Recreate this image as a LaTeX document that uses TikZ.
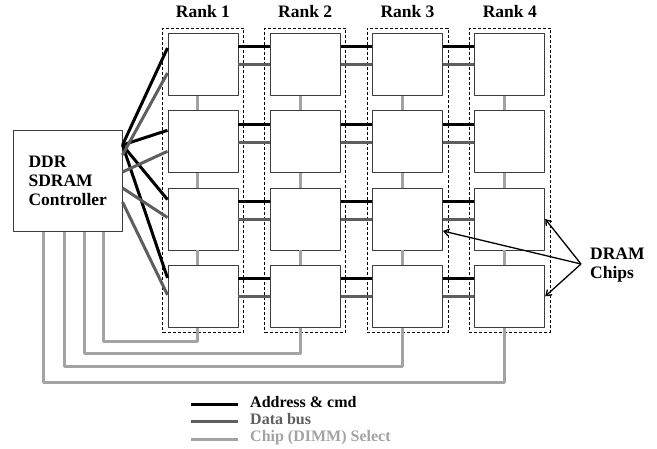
\documentclass[tikz,border=0pt]{standalone}
\usepackage{fontspec}
\setmainfont{Liberation Serif}
\usetikzlibrary{arrows.meta,positioning,fit,calc}
\definecolor{datagray}{HTML}{5E5E5E}
\definecolor{selgray}{HTML}{A3A3A3}
\definecolor{edgegray}{HTML}{3C3C3C}
\tikzset{
  every picture/.style={font=\bfseries\fontsize{17.5}{19}\selectfont, line join=round, >={Straight Barb[length=5pt,width=7pt]}},
  chip/.style={draw=edgegray, line width=0.8pt, minimum width=70pt, minimum height=62pt, inner sep=0pt, anchor=north west},
  rankbox/.style={draw, dash pattern=on 3pt off 2pt, line width=0.7pt, inner sep=5pt},
  addrbus/.style={line width=3pt, black},
  databus/.style={line width=3pt, datagray},
  selline/.style={line width=3pt, selgray},
  legendtext/.style={anchor=base west, inner sep=0pt, font=\bfseries\fontsize{16}{17}\selectfont},
}

\begin{document}
\begin{tikzpicture}[x=1pt,y=-1pt]
\useasboundingbox (0,0) rectangle (657,449);
\foreach \r in {1,...,4}{
  \foreach \k in {1,...,4}
    \node[chip] (c\r\k) at ({167.5+102.3*(\r-1)},{33+77.3*(\k-1)}) {};
  \node[rankbox, fit=(c\r1)(c\r4)] (r\r) {};
  \node[above=10pt of r\r, inner sep=0pt] (rl\r) {Rank \r};
}
\foreach \r/\n in {1/2,2/3,3/4}
  \foreach \k in {1,...,4}{
    \draw[addrbus] ($(c\r\k.north east)+(0,14)$) -- ($(c\n\k.north west)+(0,14)$);
    \draw[databus] ($(c\r\k.north east)+(0,32)$) -- ($(c\n\k.north west)+(0,32)$);
  }
\foreach \r in {1,...,4}
  \foreach \k/\m in {1/2,2/3,3/4}
    \draw[selline] ($(c\r\k.south)+(-5,0)$) -- ($(c\r\m.north)+(-5,0)$);
\node[draw=edgegray, line width=0.8pt, minimum width=108.7pt, minimum height=101pt, align=left, anchor=north west] (ctrl) at (13,130) {DDR\\SDRAM\\Controller};
\foreach \k/\ys/\ye in {1/15/15, 2/15/20, 3/15/12, 4/15/13}
  \draw[addrbus] ($(ctrl.north east)+(0,\ys)$) -- ($(c1\k.north west)+(0,\ye)$);
\foreach \k/\ys/\ye in {1/25/40, 2/42/41, 3/58/30, 4/72/30}
  \draw[databus] ($(ctrl.north east)+(0,\ys)$) -- ($(c1\k.north west)+(0,\ye)$);
\foreach \r/\xo/\yo in {1/90/342, 2/71/354, 3/51/367, 4/30/383}{
  \coordinate (s\r) at ($(ctrl.south west)+(\xo,0)$);
  \draw[selline] (s\r) -- (s\r |- 0,\yo) -| ($(c\r4.south)+(-5,0)$);
}
\node[align=left, anchor=west, inner sep=0pt] (dram) at (590,265) {DRAM\\Chips};
\coordinate (dp) at ($(dram.west)+(-9,-1)$);
\draw[->, line width=1.3pt] (dp) -- ([yshift=-12pt]c33.east);
\draw[->, line width=1.3pt] (dp) -- (c43.east);
\draw[->, line width=1.3pt] (dp) -- (c44.east);
\node[legendtext] (la) at (250,408) {Address \& cmd};
\node[legendtext, text=datagray] (lb) at (250,425) {Data bus};
\node[legendtext, text=selgray] (lc) at (250,442) {Chip (DIMM) Select};
\draw[addrbus] ($(la.base west)+(-59,-3)$) -- ($(la.base west)+(-12,-3)$);
\draw[databus] ($(lb.base west)+(-59,-3)$) -- ($(lb.base west)+(-12,-3)$);
\draw[selline] ($(lc.base west)+(-59,-2)$) -- ($(lc.base west)+(-12,-2)$);
\end{tikzpicture}
\end{document}
